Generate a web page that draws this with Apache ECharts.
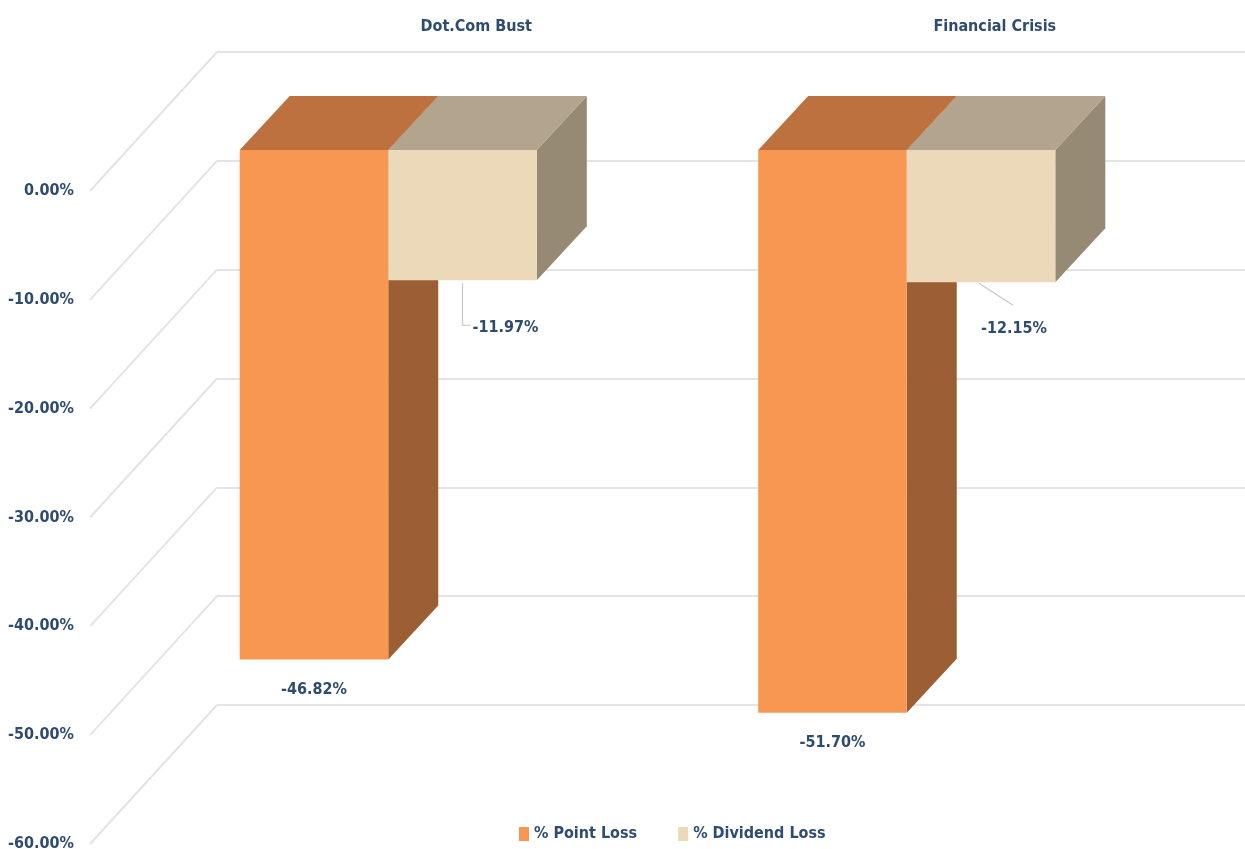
<!DOCTYPE html>
<html>
<head>
<meta charset="utf-8">
<script src="https://cdn.jsdelivr.net/npm/echarts@6/dist/echarts.min.js"></script>
<style>
  html, body { margin: 0; padding: 0; background: #ffffff; }
  #chart { width: 1245px; height: 849px; }
</style>
</head>
<body>
<div id="chart"></div>
<script>
const categories = ['Dot.Com Bust', 'Financial Crisis'];
const seriesNames = ['% Point Loss', '% Dividend Loss'];
const pointLoss = [-46.82, -51.70];
const dividendLoss = [-11.97, -12.15];
const yTicks = [0, -10, -20, -30, -40, -50, -60];

const FONT = '"Liberation Sans Narrow", "DejaVu Sans Condensed", "Noto Sans", sans-serif';
const TEXT = '#2E4B70';
const GRIDC = '#E4E4E4';
const FS = 16;

// oblique depth offsets (pixels) from back wall
const FRONT = [-88, 98];   // bar front face
const BACK = [-38, 44];    // bar back face
const WALL = [-127, 139];  // front edge of side wall (axis labels)

const faces = [
  { front: '#F79751', top: '#BD713E', side: '#9C5E33' },
  { front: '#EBD9B9', top: '#B3A58D', side: '#968A74' }
];

function barRender(sIdx) {
  return function (params, api) {
    const i = api.value(0);
    const v = api.value(1);
    const band = api.size([1, 0])[0];
    const bw = band * 0.2865;
    const c = api.coord([i, 0]);
    const b = api.coord([i, v]);
    const x0 = c[0] - bw + sIdx * bw;
    const x1 = x0 + bw;
    const y0 = c[1], yb = b[1];
    const f = faces[sIdx];
    const children = [
      { type: 'polygon', shape: { points: [
          [x1 + FRONT[0], y0 + FRONT[1]], [x1 + BACK[0], y0 + BACK[1]],
          [x1 + BACK[0], yb + BACK[1]], [x1 + FRONT[0], yb + FRONT[1]]] },
        style: { fill: f.side } },
      { type: 'polygon', shape: { points: [
          [x0 + FRONT[0], y0 + FRONT[1]], [x1 + FRONT[0], y0 + FRONT[1]],
          [x1 + BACK[0], y0 + BACK[1]], [x0 + BACK[0], y0 + BACK[1]]] },
        style: { fill: f.top } },
      { type: 'rect', shape: { x: x0 + FRONT[0], y: y0 + FRONT[1], width: bw, height: yb - y0 },
        style: { fill: f.front } }
    ];
    const fx = (x0 + x1) / 2 + FRONT[0];
    const fb = yb + FRONT[1];
    const label = v.toFixed(2) + '%';
    if (sIdx === 0) {
      children.push({ type: 'text', style: { x: fx, y: fb + 30, text: label, fill: TEXT,
        font: 'bold ' + FS + 'px ' + FONT, align: 'center', verticalAlign: 'middle' }, z2: 10 });
    } else {
      let pts, lx, ly;
      if (i === 0) { pts = [[fx, fb + 3], [fx, fb + 45], [fx + 8, fb + 45]]; lx = fx + 43; ly = fb + 48; }
      else { pts = [[fx - 2, fb + 1], [fx + 32, fb + 23]]; lx = fx + 33; ly = fb + 47; }
      children.push({ type: 'polyline', shape: { points: pts }, style: { stroke: '#C8C8C8', lineWidth: 1.2, fill: null } });
      children.push({ type: 'text', style: { x: lx, y: ly, text: label, fill: TEXT,
        font: 'bold ' + FS + 'px ' + FONT, align: 'center', verticalAlign: 'middle' }, z2: 10 });
    }
    return { type: 'group', children: children };
  };
}

const chart = echarts.init(document.getElementById('chart'), null, { renderer: 'canvas' });
chart.setOption({
  backgroundColor: '#ffffff',
  animation: false,
  textStyle: { fontFamily: FONT },
  legend: {
    bottom: 2, left: 514, itemWidth: 10, itemHeight: 14, itemGap: 41,
    icon: 'rect',
    data: seriesNames,
    textStyle: { color: TEXT, fontWeight: 'bold', fontSize: FS, fontFamily: FONT }
  },
  grid: [
    { left: 217, top: 52, width: 1037, height: 653, outerBoundsMode: 'none', containLabel: false },
    { left: 90, top: 191, width: 10, height: 653, outerBoundsMode: 'none', containLabel: false }
  ],
  xAxis: [
    { type: 'category', gridIndex: 0, data: categories, position: 'top',
      axisLine: { show: false }, axisTick: { show: false },
      axisLabel: { color: TEXT, fontWeight: 'bold', fontSize: FS, fontFamily: FONT, margin: 17 } },
    { type: 'value', gridIndex: 1, show: false }
  ],
  yAxis: [
    { type: 'value', gridIndex: 0, min: -60, max: 0, interval: 10,
      axisLabel: { show: false }, axisLine: { show: false }, axisTick: { show: false },
      splitLine: { lineStyle: { color: GRIDC, width: 2 } } },
    { type: 'value', gridIndex: 1, min: -60, max: 0, interval: 10,
      axisLine: { show: false }, axisTick: { show: false }, splitLine: { show: false },
      axisLabel: { color: TEXT, fontWeight: 'bold', fontSize: FS, fontFamily: FONT, margin: 16,
        formatter: v => v.toFixed(2) + '%' } }
  ],
  series: [
    { type: 'custom', name: 'wall', xAxisIndex: 0, yAxisIndex: 0, silent: true, z: 1,
      data: yTicks.map(t => [0, t]),
      renderItem: function (params, api) {
        const y = api.coord([0, api.value(1)])[1];
        const x = params.coordSys.x;
        return { type: 'line', shape: { x1: x, y1: y, x2: x + WALL[0], y2: y + WALL[1] },
          style: { stroke: GRIDC, lineWidth: 2 } };
      } },
    { type: 'custom', name: seriesNames[0], xAxisIndex: 0, yAxisIndex: 0, z: 3,
      itemStyle: { color: faces[0].front },
      data: pointLoss.map((v, i) => [i, v]), renderItem: barRender(0) },
    { type: 'custom', name: seriesNames[1], xAxisIndex: 0, yAxisIndex: 0, z: 4,
      itemStyle: { color: faces[1].front },
      data: dividendLoss.map((v, i) => [i, v]), renderItem: barRender(1) }
  ]
});
</script>
</body>
</html>
